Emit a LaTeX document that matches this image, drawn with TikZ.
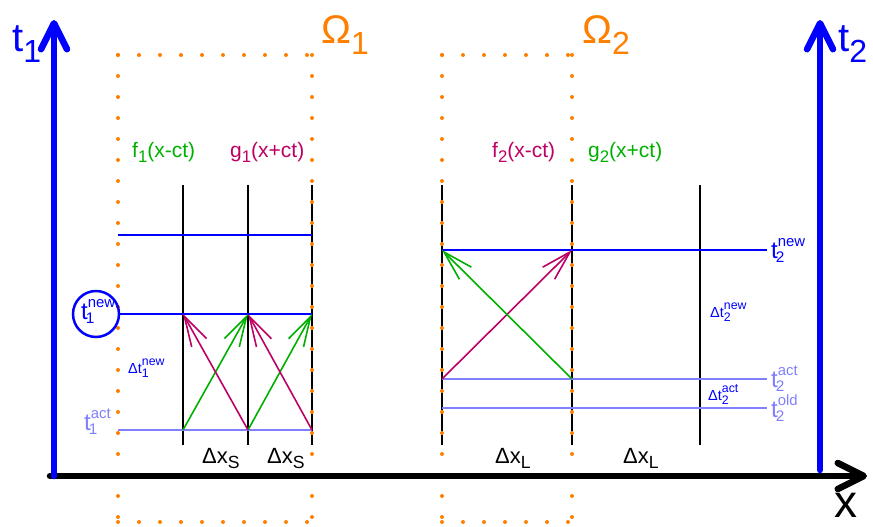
\documentclass[tikz,border=0pt]{standalone}
\usepackage{fontspec}
\setmainfont{Liberation Sans}
\usetikzlibrary{arrows.meta}
\definecolor{tblue}{RGB}{0,0,255}
\definecolor{lblue}{RGB}{128,128,255}
\definecolor{fgreen}{RGB}{0,176,0}
\definecolor{gmag}{RGB}{190,0,100}
\definecolor{omor}{RGB}{255,128,0}
\newcommand\sbs[1]{\raisebox{-.26em}{\scalebox{.8}{#1}}}
% time label with stacked sub- and superscript
\newcommand\tbig[3]{#1\rlap{\raisebox{.5em}{\scalebox{.62}{#3}}}\kern-.08em\raisebox{-.17em}{\scalebox{.64}{#2}}}
\newcommand\tsm[3]{#1\rlap{\raisebox{.5em}{\scalebox{.85}{#3}}}\raisebox{-.33em}{\scalebox{.85}{#2}}}
\begin{document}
\begin{tikzpicture}[x=1pt,y=-1pt,
  axis/.style={line width=6.5pt,line cap=round,-{Straight Barb[length=26pt,width=26pt,round]}},
  dots/.style={omor,line width=4pt,line cap=round,dash pattern=on 0pt off 21pt},
  gridline/.style={black,line width=2.8pt},
  newline/.style={tblue,line width=2.8pt},
  oldline/.style={lblue,line width=2.8pt},
  fw/.style={fgreen,line width=1.6pt,-{Straight Barb[length=30pt,width=17pt]}},
  gw/.style={gmag,line width=1.6pt,-{Straight Barb[length=30pt,width=17pt]}},
  lbl/.style={inner sep=0pt,anchor=base west},
  big/.style={lbl,font=\fontsize{40}{44}\selectfont},
  mid/.style={lbl,font=\fontsize{21}{24}\selectfont},
  tlab/.style={lbl,font=\fontsize{24}{26}\selectfont},
  sml/.style={lbl,font=\fontsize{14.5}{16}\selectfont},
  dxl/.style={lbl,font=\fontsize{22}{24}\selectfont}]
\useasboundingbox (0,0) rectangle (873,527);

% coordinates
\coordinate (origin) at (50,476);
\coordinate (xend) at (867,476);
\coordinate (t1b) at (54,476);
\coordinate (t1e) at (54,20);
\coordinate (t2b) at (820,470);
\coordinate (t2e) at (820,20);

% Omega 1 grid
\foreach \n/\x in {a/183,b/248,c/312} {
  \coordinate (\n top) at (\x,185);
  \coordinate (\n bot) at (\x,445);
  \coordinate (\n A) at (\x,235);
  \coordinate (\n N) at (\x,314);
  \coordinate (\n T) at (\x,430);
}
\coordinate (lA) at (118,235);
\coordinate (lN) at (118,314);
\coordinate (lT) at (118,430);

% Omega 2 grid
\foreach \n/\x in {d/442,e/572,f/700} {
  \coordinate (\n top) at (\x,185);
  \coordinate (\n bot) at (\x,445);
  \coordinate (\n N) at (\x,250);
  \coordinate (\n A) at (\x,379);
  \coordinate (\n O) at (\x,408);
}
\coordinate (rN) at (767,250);
\coordinate (rA) at (767,379);
\coordinate (rO) at (767,408);

% black vertical lines
\foreach \n in {a,b,c,d,e,f} \draw[gridline] (\n top) -- (\n bot);

% horizontal time lines
\draw[newline] (lA) -- (cA);
\draw[newline] (lN) -- (cN);
\draw[oldline] (lT) -- (cT);
\draw[newline] (dN) -- (rN);
\draw[oldline] (dA) -- (rA);
\draw[oldline] (dO) -- (rO);

% orange dotted subdomains
\coordinate (o1tl) at (118,55);
\coordinate (o1tr) at (312,55);
\coordinate (o1bl) at (118,522);
\coordinate (o1br) at (312,522);
\coordinate (o2tl) at (442,55);
\coordinate (o2tr) at (572,55);
\coordinate (o2bl) at (442,522);
\coordinate (o2br) at (572,522);
\draw[dots] (o1tl) -- (o1tr);
\draw[dots] (o1tl) -- (o1bl);
\draw[dots] (o1tr) -- (o1br);
\draw[dots] (o1bl) -- (o1br);
\draw[dots] (o2tl) -- (o2tr);
\draw[dots] (o2tl) -- (o2bl);
\draw[dots] (o2tr) -- (o2br);
\draw[dots] (o2bl) -- (o2br);

% characteristics
\draw[fw] (aT) -- (bN);
\draw[fw] (bT) -- (cN);
\draw[gw] (bT) -- (aN);
\draw[gw] (cT) -- (bN);
\draw[gw] (dA) -- (eN);
\draw[fw] (eA) -- (dN);

% axes
\draw[axis,black] (origin) -- (xend);
\draw[axis,tblue] (t1b) -- (t1e);
\draw[axis,tblue] (t2b) -- (t2e);

% labels
\node[big,tblue] (t1lab) at (12,52) {t\sbs{1}};
\node[big,tblue] (t2lab) at (838,52) {t\sbs{2}};
\node[lbl,font=\fontsize{46}{50}\selectfont] (xlab) at (834,517) {x};
\node[big,omor] (om1) at (321,44) {Ω\sbs{1}};
\node[big,omor] (om2) at (582,44) {Ω\sbs{2}};

\node[mid,fgreen] (f1) at (132,157) {f\sbs{1}(x-ct)};
\node[mid,gmag] (g1) at (230,157) {g\sbs{1}(x+ct)};
\node[mid,gmag] (f2) at (492,157) {f\sbs{2}(x-ct)};
\node[mid,fgreen] (g2) at (588,157) {g\sbs{2}(x+ct)};

\node[draw=tblue,line width=2.5pt,circle,minimum size=46pt,inner sep=0pt] (cnew) at (96,314) {};
\node[tlab,tblue] (t1new) at (81,319) {\tbig{t}{1}{new}};
\node[sml,tblue] (dt1new) at (128,373) {Δ\tsm{t}{1}{new}};
\node[tlab,lblue] (t1act) at (84,430) {\tbig{t}{1}{act}};

\node[tlab,tblue] (t2new) at (771,258) {\tbig{t}{2}{new}};
\node[sml,tblue] (dt2new) at (710,317) {Δ\tsm{t}{2}{new}};
\node[tlab,lblue] (t2act) at (771,387) {\tbig{t}{2}{act}};
\node[sml,tblue] (dt2act) at (708,400) {Δ\tsm{t}{2}{act}};
\node[tlab,lblue] (t2old) at (771,417) {\tbig{t}{2}{old}};

\node[dxl] (dxs1) at (202,463) {Δx\sbs{S}};
\node[dxl] (dxs2) at (267,463) {Δx\sbs{S}};
\node[dxl] (dxl1) at (495,463) {Δx\sbs{L}};
\node[dxl] (dxl2) at (623,463) {Δx\sbs{L}};
\end{tikzpicture}
\end{document}
